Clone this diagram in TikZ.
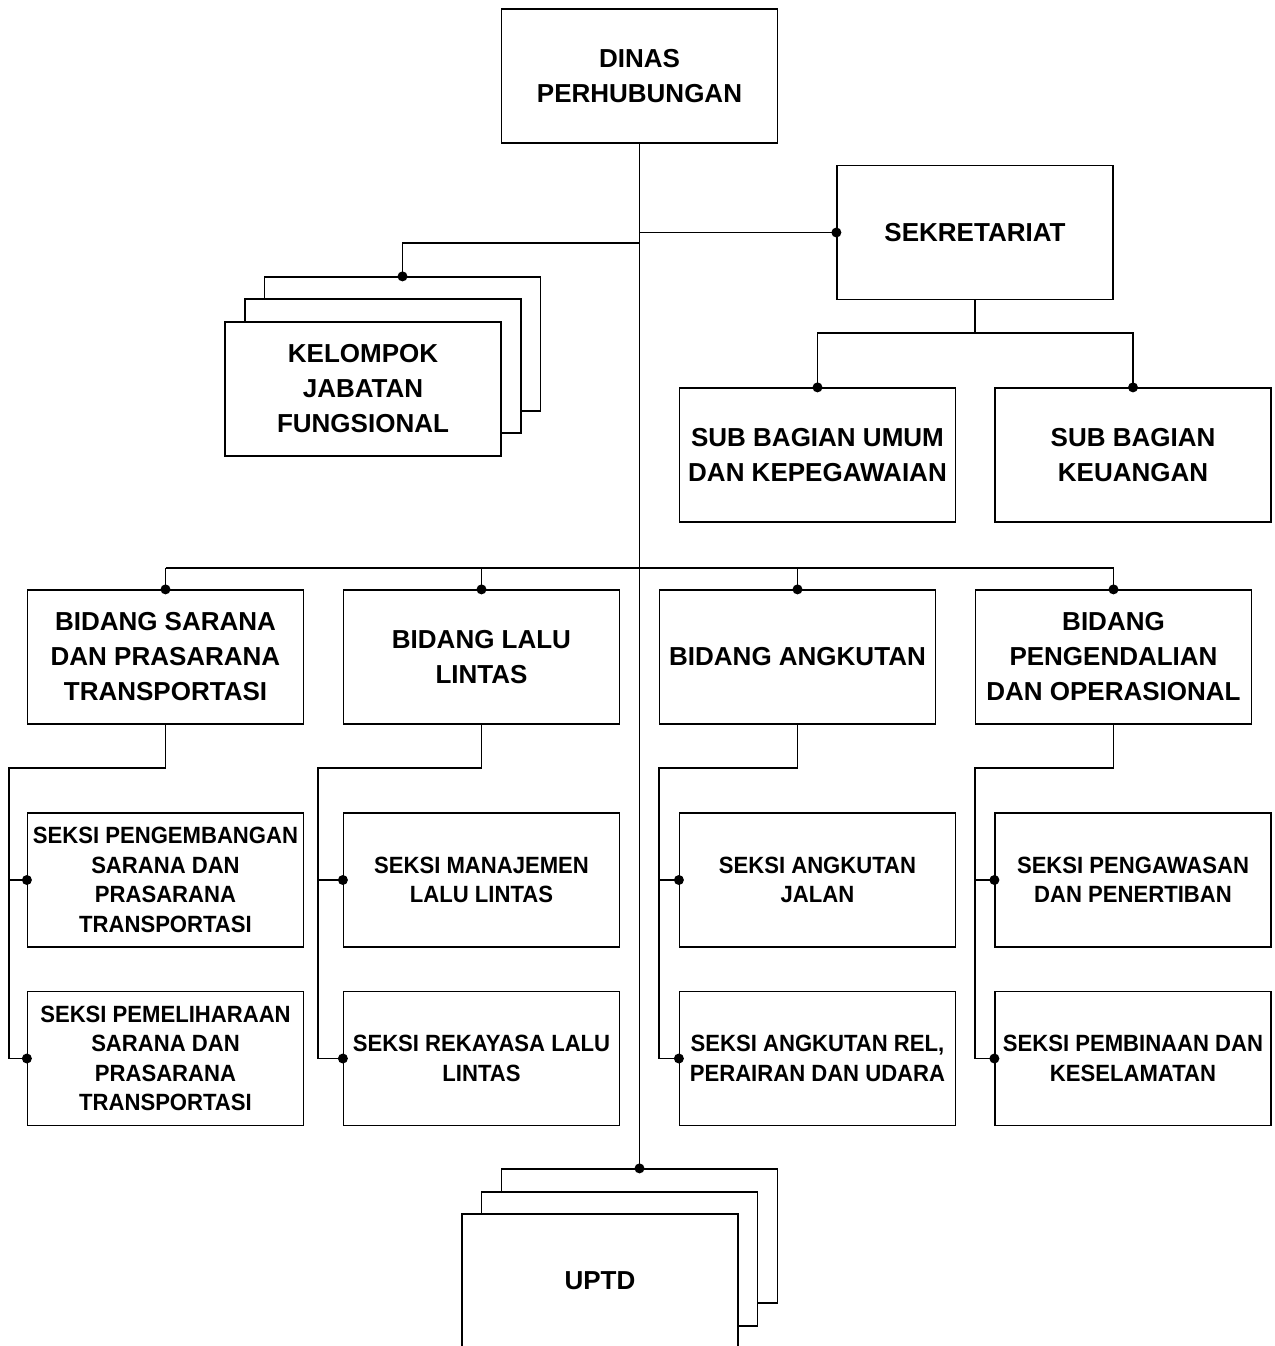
\documentclass[tikz,border=0pt]{standalone}
\usepackage{fontspec}
\newfontfamily\bigf{Liberation Sans}
\newfontfamily\smallf{Liberation Sans}[FakeStretch=0.94]
\begin{document}
\begin{tikzpicture}[x=1pt,y=-1pt,
  line/.style={draw=black,line width=1.3pt},
  mainline/.style={draw=black,line width=1.9pt},
  bx/.style={draw=black,line width=1.2pt,fill=white,minimum width=276pt,minimum height=134pt,inner sep=0pt,align=center},
  big/.style={bx,font=\bigf\bfseries\fontsize{26}{35}\selectfont},
  sml/.style={bx,font=\smallf\bfseries\fontsize{23.5}{29.5}\selectfont},
  dot/.style={fill=black}]
\useasboundingbox (0,0) rectangle (1274,1346);
\fill[white] (0,0) rectangle (1274,1346);

% boxes
\node[big] (dinas) at (639.5,76) {DINAS\\PERHUBUNGAN};
\node[big] (sekr) at (975,232.5) {SEKRETARIAT};
\node[big] (umum) at (817.5,455) {SUB BAGIAN UMUM\\DAN KEPEGAWAIAN};
\node[big] (keu) at (1133,455) {SUB BAGIAN\\KEUANGAN};

\node[big] (kel3) at (402.5,344) {};
\node[big] (kel2) at (383,366) {};
\node[big] (kel) at (363,389) {KELOMPOK\\JABATAN\\FUNGSIONAL};

\node[big] (b1) at (165.5,657) {BIDANG SARANA\\DAN PRASARANA\\TRANSPORTASI};
\node[big] (b2) at (481.5,657) {BIDANG LALU\\LINTAS};
\node[big] (b3) at (797.5,657) {BIDANG ANGKUTAN};
\node[big] (b4) at (1113.5,657) {BIDANG\\PENGENDALIAN\\DAN OPERASIONAL};

\node[sml] (s11) at (165.5,880) {SEKSI PENGEMBANGAN\\SARANA DAN\\PRASARANA\\TRANSPORTASI};
\node[sml] (s12) at (165.5,1058.5) {SEKSI PEMELIHARAAN\\SARANA DAN\\PRASARANA\\TRANSPORTASI};
\node[sml] (s21) at (481.5,880) {SEKSI MANAJEMEN\\LALU LINTAS};
\node[sml] (s22) at (481.5,1058.5) {SEKSI REKAYASA LALU\\LINTAS};
\node[sml] (s31) at (817.5,880) {SEKSI ANGKUTAN\\JALAN};
\node[sml] (s32) at (817.5,1058.5) {SEKSI ANGKUTAN REL,\\PERAIRAN DAN UDARA};
\node[sml] (s41) at (1133,880) {SEKSI PENGAWASAN\\DAN PENERTIBAN};
\node[sml] (s42) at (1133,1058.5) {SEKSI PEMBINAAN DAN\\KESELAMATAN};

\node[big] (up3) at (639.5,1236) {};
\node[big] (up2) at (619.5,1259) {};
\node[big] (uptd) at (600,1281) {UPTD};

% junction coordinates
\coordinate (jsek) at (639.5,232.5);
\coordinate (jkel) at (639.5,243);
\coordinate (jsub) at (975,333);
\coordinate (bus) at (639.5,568);
\coordinate (busL) at (165.5,568);
\coordinate (busR) at (1113.5,568);
\coordinate (c1) at (9,768);
\coordinate (c2) at (318,768);
\coordinate (c3) at (659,768);
\coordinate (c4) at (975,768);

% connectors
\draw[mainline] (dinas.south) -- (up3.north);
\draw[line] (jsek) -- (sekr.west);
\draw[line] (jkel) -| (kel3.north);
\draw[line] (sekr.south) -- (jsub);
\draw[line] (jsub) -| (umum.north);
\draw[line] (jsub) -| (keu.north);
\draw[line] (busL) -- (busR);
\draw[line] (busL) -- (b1.north);
\draw[line] (b2.north |- bus) -- (b2.north);
\draw[line] (b3.north |- bus) -- (b3.north);
\draw[line] (busR) -- (b4.north);

\draw[line] (b1.south) |- (c1) |- (s12.west);
\draw[line] (c1 |- s11.west) -- (s11.west);
\draw[line] (b2.south) |- (c2) |- (s22.west);
\draw[line] (c2 |- s21.west) -- (s21.west);
\draw[line] (b3.south) |- (c3) |- (s32.west);
\draw[line] (c3 |- s31.west) -- (s31.west);
\draw[line] (b4.south) |- (c4) |- (s42.west);
\draw[line] (c4 |- s41.west) -- (s41.west);

% dots
\foreach \n in {sekr.west,kel3.north,umum.north,keu.north,b1.north,b2.north,b3.north,b4.north,s11.west,s12.west,s21.west,s22.west,s31.west,s32.west,s41.west,s42.west,up3.north}
  \fill[dot] (\n) circle (5pt);
\end{tikzpicture}
\end{document}
